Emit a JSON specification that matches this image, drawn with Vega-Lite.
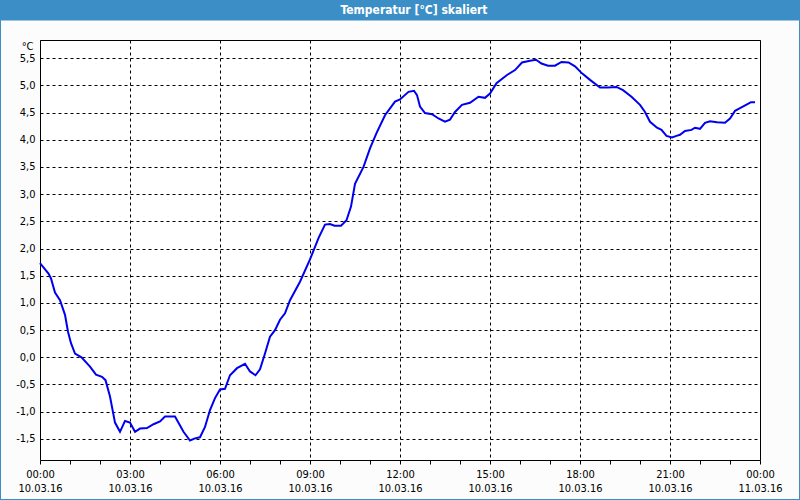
{
  "$schema": "https://vega.github.io/schema/vega-lite/v6.json",
  "width": 720,
  "height": 420,
  "autosize": {"type": "none"},
  "padding": {"left": 40, "top": 40, "right": 40, "bottom": 40},
  "background": "#FBFCFB",
  "config": {
    "view": {"stroke": "#000000", "strokeWidth": 1, "fill": "#FFFFFF"},
    "axis": {
      "labelFont": "DejaVu Sans Condensed, Liberation Sans",
      "titleFont": "DejaVu Sans Condensed, Liberation Sans",
      "labelFontSize": 11,
      "labelColor": "#000000",
      "titleColor": "#000000"
    }
  },
  "datasets": {
    "temp": [
      {"t": "2016-03-10T00:00:00", "v": 1.73},
      {"t": "2016-03-10T00:17:00", "v": 1.54},
      {"t": "2016-03-10T00:22:00", "v": 1.45},
      {"t": "2016-03-10T00:30:00", "v": 1.19},
      {"t": "2016-03-10T00:40:00", "v": 1.05},
      {"t": "2016-03-10T00:50:00", "v": 0.78},
      {"t": "2016-03-10T00:56:00", "v": 0.47},
      {"t": "2016-03-10T01:02:00", "v": 0.26},
      {"t": "2016-03-10T01:10:00", "v": 0.07},
      {"t": "2016-03-10T01:23:00", "v": 0.0},
      {"t": "2016-03-10T01:40:00", "v": -0.17},
      {"t": "2016-03-10T01:52:00", "v": -0.32},
      {"t": "2016-03-10T02:04:00", "v": -0.36},
      {"t": "2016-03-10T02:11:00", "v": -0.42},
      {"t": "2016-03-10T02:20:00", "v": -0.72},
      {"t": "2016-03-10T02:30:00", "v": -1.2},
      {"t": "2016-03-10T02:40:00", "v": -1.37},
      {"t": "2016-03-10T02:50:00", "v": -1.17},
      {"t": "2016-03-10T03:00:00", "v": -1.2},
      {"t": "2016-03-10T03:10:00", "v": -1.37},
      {"t": "2016-03-10T03:20:00", "v": -1.31},
      {"t": "2016-03-10T03:34:00", "v": -1.3},
      {"t": "2016-03-10T03:47:00", "v": -1.23},
      {"t": "2016-03-10T04:00:00", "v": -1.18},
      {"t": "2016-03-10T04:10:00", "v": -1.09},
      {"t": "2016-03-10T04:30:00", "v": -1.09},
      {"t": "2016-03-10T04:47:00", "v": -1.37},
      {"t": "2016-03-10T05:00:00", "v": -1.53},
      {"t": "2016-03-10T05:10:00", "v": -1.49},
      {"t": "2016-03-10T05:20:00", "v": -1.47},
      {"t": "2016-03-10T05:30:00", "v": -1.28},
      {"t": "2016-03-10T05:40:00", "v": -0.97},
      {"t": "2016-03-10T05:50:00", "v": -0.75},
      {"t": "2016-03-10T06:00:00", "v": -0.59},
      {"t": "2016-03-10T06:10:00", "v": -0.58},
      {"t": "2016-03-10T06:20:00", "v": -0.33},
      {"t": "2016-03-10T06:34:00", "v": -0.2},
      {"t": "2016-03-10T06:50:00", "v": -0.12},
      {"t": "2016-03-10T07:00:00", "v": -0.26},
      {"t": "2016-03-10T07:11:00", "v": -0.33},
      {"t": "2016-03-10T07:20:00", "v": -0.22},
      {"t": "2016-03-10T07:30:00", "v": 0.07},
      {"t": "2016-03-10T07:40:00", "v": 0.38},
      {"t": "2016-03-10T07:50:00", "v": 0.5},
      {"t": "2016-03-10T08:00:00", "v": 0.69},
      {"t": "2016-03-10T08:10:00", "v": 0.81},
      {"t": "2016-03-10T08:20:00", "v": 1.05},
      {"t": "2016-03-10T08:40:00", "v": 1.39},
      {"t": "2016-03-10T09:00:00", "v": 1.8},
      {"t": "2016-03-10T09:17:00", "v": 2.19},
      {"t": "2016-03-10T09:30:00", "v": 2.44},
      {"t": "2016-03-10T09:40:00", "v": 2.45},
      {"t": "2016-03-10T09:49:00", "v": 2.42},
      {"t": "2016-03-10T10:02:00", "v": 2.42},
      {"t": "2016-03-10T10:13:00", "v": 2.52},
      {"t": "2016-03-10T10:22:00", "v": 2.77},
      {"t": "2016-03-10T10:30:00", "v": 3.19},
      {"t": "2016-03-10T10:47:00", "v": 3.5},
      {"t": "2016-03-10T11:00:00", "v": 3.84},
      {"t": "2016-03-10T11:13:00", "v": 4.12},
      {"t": "2016-03-10T11:30:00", "v": 4.45},
      {"t": "2016-03-10T11:50:00", "v": 4.7},
      {"t": "2016-03-10T12:00:00", "v": 4.74},
      {"t": "2016-03-10T12:17:00", "v": 4.88},
      {"t": "2016-03-10T12:28:00", "v": 4.9},
      {"t": "2016-03-10T12:34:00", "v": 4.82},
      {"t": "2016-03-10T12:40:00", "v": 4.61},
      {"t": "2016-03-10T12:50:00", "v": 4.49},
      {"t": "2016-03-10T13:04:00", "v": 4.47},
      {"t": "2016-03-10T13:17:00", "v": 4.39},
      {"t": "2016-03-10T13:30:00", "v": 4.33},
      {"t": "2016-03-10T13:40:00", "v": 4.37},
      {"t": "2016-03-10T13:50:00", "v": 4.51},
      {"t": "2016-03-10T14:04:00", "v": 4.64},
      {"t": "2016-03-10T14:20:00", "v": 4.68},
      {"t": "2016-03-10T14:37:00", "v": 4.79},
      {"t": "2016-03-10T14:50:00", "v": 4.77},
      {"t": "2016-03-10T15:00:00", "v": 4.85},
      {"t": "2016-03-10T15:13:00", "v": 5.04},
      {"t": "2016-03-10T15:34:00", "v": 5.19},
      {"t": "2016-03-10T15:50:00", "v": 5.28},
      {"t": "2016-03-10T16:04:00", "v": 5.42},
      {"t": "2016-03-10T16:20:00", "v": 5.45},
      {"t": "2016-03-10T16:32:00", "v": 5.47},
      {"t": "2016-03-10T16:43:00", "v": 5.4},
      {"t": "2016-03-10T16:56:00", "v": 5.36},
      {"t": "2016-03-10T17:10:00", "v": 5.36},
      {"t": "2016-03-10T17:23:00", "v": 5.43},
      {"t": "2016-03-10T17:37:00", "v": 5.42},
      {"t": "2016-03-10T17:50:00", "v": 5.35},
      {"t": "2016-03-10T18:04:00", "v": 5.22},
      {"t": "2016-03-10T18:20:00", "v": 5.1},
      {"t": "2016-03-10T18:40:00", "v": 4.96},
      {"t": "2016-03-10T18:56:00", "v": 4.96},
      {"t": "2016-03-10T19:13:00", "v": 4.97},
      {"t": "2016-03-10T19:26:00", "v": 4.91},
      {"t": "2016-03-10T19:43:00", "v": 4.79},
      {"t": "2016-03-10T20:00:00", "v": 4.64},
      {"t": "2016-03-10T20:10:00", "v": 4.51},
      {"t": "2016-03-10T20:20:00", "v": 4.33},
      {"t": "2016-03-10T20:34:00", "v": 4.22},
      {"t": "2016-03-10T20:43:00", "v": 4.18},
      {"t": "2016-03-10T20:53:00", "v": 4.07},
      {"t": "2016-03-10T21:04:00", "v": 4.04},
      {"t": "2016-03-10T21:13:00", "v": 4.07},
      {"t": "2016-03-10T21:20:00", "v": 4.09},
      {"t": "2016-03-10T21:30:00", "v": 4.16},
      {"t": "2016-03-10T21:43:00", "v": 4.18},
      {"t": "2016-03-10T21:50:00", "v": 4.22},
      {"t": "2016-03-10T22:00:00", "v": 4.2},
      {"t": "2016-03-10T22:10:00", "v": 4.31},
      {"t": "2016-03-10T22:20:00", "v": 4.34},
      {"t": "2016-03-10T22:34:00", "v": 4.32},
      {"t": "2016-03-10T22:50:00", "v": 4.31},
      {"t": "2016-03-10T23:00:00", "v": 4.39},
      {"t": "2016-03-10T23:10:00", "v": 4.53},
      {"t": "2016-03-10T23:20:00", "v": 4.58},
      {"t": "2016-03-10T23:34:00", "v": 4.65},
      {"t": "2016-03-10T23:42:00", "v": 4.69},
      {"t": "2016-03-10T23:50:00", "v": 4.69}
    ]
  },
  "layer": [
    {
      "data": {"name": "temp"},
      "mark": {"type": "line", "color": "#0000F0", "strokeWidth": 2},
      "encoding": {
        "x": {
          "field": "t",
          "type": "temporal",
          "scale": {"domain": ["2016-03-10T00:00:00", "2016-03-11T00:00:00"], "nice": false},
          "axis": {
            "title": null,
            "domain": false,
            "tickCount": 100,
            "values": [
              "2016-03-10T00:00:00", "2016-03-10T01:00:00", "2016-03-10T02:00:00", "2016-03-10T03:00:00",
              "2016-03-10T04:00:00", "2016-03-10T05:00:00", "2016-03-10T06:00:00", "2016-03-10T07:00:00",
              "2016-03-10T08:00:00", "2016-03-10T09:00:00", "2016-03-10T10:00:00", "2016-03-10T11:00:00",
              "2016-03-10T12:00:00", "2016-03-10T13:00:00", "2016-03-10T14:00:00", "2016-03-10T15:00:00",
              "2016-03-10T16:00:00", "2016-03-10T17:00:00", "2016-03-10T18:00:00", "2016-03-10T19:00:00",
              "2016-03-10T20:00:00", "2016-03-10T21:00:00", "2016-03-10T22:00:00", "2016-03-10T23:00:00",
              "2016-03-11T00:00:00"
            ],
            "tickSize": 4,
            "tickColor": "#000000",
            "tickWidth": 1,
            "labelPadding": 4,
            "labelLineHeight": 14,
            "labelFlush": false,
            "labelOverlap": false,
            "labelExpr": "hours(datum.value) % 3 == 0 ? [timeFormat(datum.value, '%H:%M'), timeFormat(datum.value, '%d.%m.%y')] : ''",
            "grid": true,
            "gridColor": "#000000",
            "gridDash": [3, 3],
            "gridWidth": 1,
            "gridOpacity": {"condition": {"test": "hours(datum.value) % 3 != 0", "value": 0}, "value": 1}
          }
        },
        "y": {
          "field": "v",
          "type": "quantitative",
          "scale": {"domain": [-1.888, 5.833], "nice": false, "zero": false},
          "axis": {
            "tickCount": 100,
            "values": [-1.5, -1, -0.5, 0, 0.5, 1, 1.5, 2, 2.5, 3, 3.5, 4, 4.5, 5, 5.5],
            "labelExpr": "(datum.value < 0 ? '-' : '') + replace(format(abs(datum.value), '.1f'), '.', ',')",
            "labelOverlap": false,
            "domain": false,
            "ticks": false,
            "tickSize": 0,
            "labelPadding": 5,
            "grid": true,
            "gridColor": "#000000",
            "gridDash": [3, 3],
            "gridWidth": 1,
            "title": "°C",
            "titleAngle": 0,
            "titleAlign": "right",
            "titleBaseline": "alphabetic",
            "titleX": -7,
            "titleY": 9,
            "titleFontSize": 11,
            "titleFontWeight": "normal"
          }
        }
      }
    },
    {
      "data": {"values": [{}]},
      "mark": {"type": "rect", "color": "#3C8FC6"},
      "encoding": {
        "x": {"datum": {"year": 2016, "month": 3, "date": 9, "hours": 22, "minutes": 40}, "type": "temporal"},
        "x2": {"datum": {"year": 2016, "month": 3, "date": 11, "hours": 1, "minutes": 20}},
        "y": {"datum": 6.57, "type": "quantitative"},
        "y2": {"datum": 6.19}
      }
    },
    {
      "data": {"values": [{}]},
      "mark": {"type": "rect", "filled": false, "color": "#3C8FC6", "strokeWidth": 2},
      "encoding": {
        "x": {"datum": {"year": 2016, "month": 3, "date": 9, "hours": 22, "minutes": 40}, "type": "temporal"},
        "x2": {"datum": {"year": 2016, "month": 3, "date": 11, "hours": 1, "minutes": 20}},
        "y": {"datum": 6.57, "type": "quantitative"},
        "y2": {"datum": -2.624}
      }
    },
    {
      "data": {"values": [{}]},
      "mark": {
        "type": "text",
        "text": "Temperatur [°C] skaliert",
        "color": "#FFFFFF",
        "font": "DejaVu Sans Condensed, Liberation Sans",
        "fontSize": 12,
        "fontWeight": "bold",
        "align": "center",
        "baseline": "middle"
      },
      "encoding": {
        "x": {"datum": {"year": 2016, "month": 3, "date": 10, "hours": 12, "minutes": 28}, "type": "temporal"},
        "y": {"datum": 6.385, "type": "quantitative"}
      }
    }
  ]
}
